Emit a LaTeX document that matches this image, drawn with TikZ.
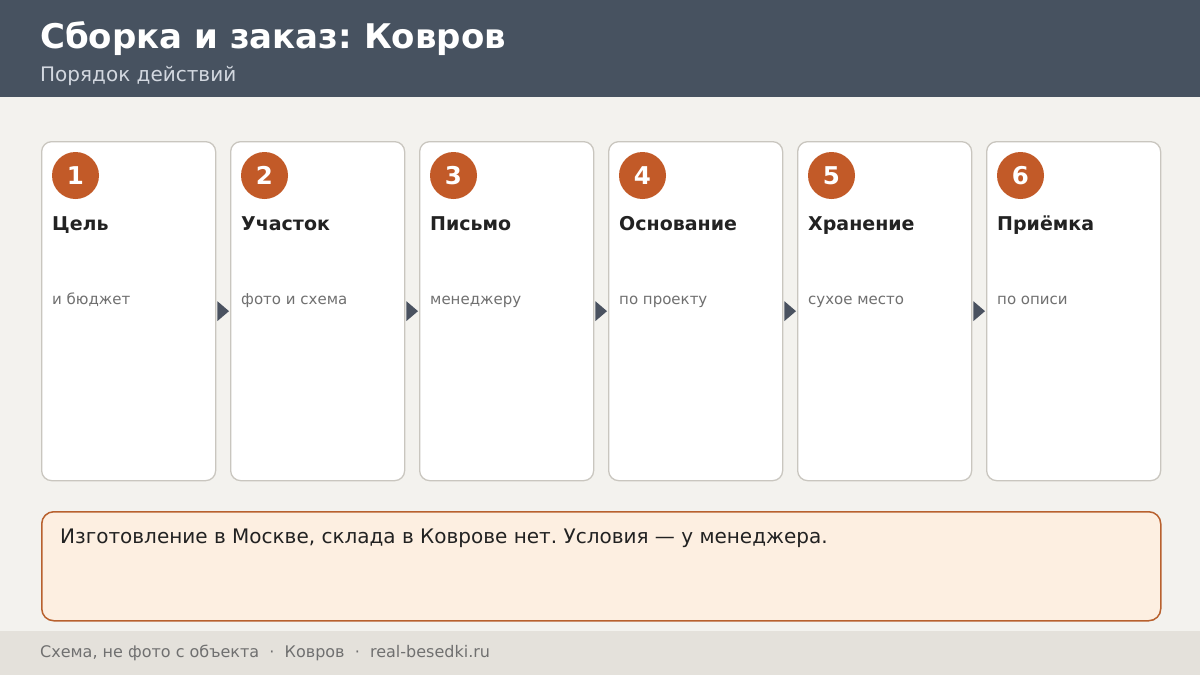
\documentclass[tikz,border=0pt]{standalone}
\usepackage{fontspec}
\setmainfont{DejaVu Sans}
\usetikzlibrary{positioning}
\frenchspacing
\definecolor{pagebg}{HTML}{F3F2EE}
\definecolor{headbg}{HTML}{475260}
\definecolor{subtxt}{HTML}{D3D8E0}
\definecolor{cardline}{HTML}{C9C6BF}
\definecolor{rust}{HTML}{C25A28}
\definecolor{inktxt}{HTML}{222222}
\definecolor{greytxt}{HTML}{707070}
\definecolor{arrowc}{HTML}{4A5260}
\definecolor{notebg}{HTML}{FDEFE1}
\definecolor{noteline}{HTML}{B8612E}
\definecolor{footbg}{HTML}{E4E1DB}

\tikzset{
  card/.style={draw=cardline, line width=1.3pt, fill=white, rounded corners=10pt,
    minimum width=174pt, minimum height=339pt, anchor=north west, inner sep=0pt},
  badge/.style={circle, fill=rust, minimum size=47pt, inner sep=0pt,
    text=white, font=\bfseries\fontsize{24.5}{28}\selectfont},
  cardtitle/.style={anchor=base west, inner sep=0pt, text=inktxt,
    font=\bfseries\fontsize{19}{23}\selectfont},
  carddesc/.style={anchor=base west, inner sep=0pt, text=greytxt,
    font=\fontsize{15}{18}\selectfont},
}

\begin{document}
\begin{tikzpicture}[x=1pt,y=-1pt]

% Canvas
\useasboundingbox (0,0) rectangle (1200,675);
\fill[pagebg] (0,0) rectangle (1200,675);

% Header
\fill[headbg] (0,0) rectangle (1200,97);
\node[anchor=base west, inner sep=0pt, text=white, font=\bfseries\fontsize{34}{40}\selectfont]
  (title) at (40,48) {Сборка и заказ: Ковров};
\node[anchor=base west, inner sep=0pt, text=subtxt, font=\fontsize{20}{24}\selectfont]
  (subtitle) at (40,81) {Порядок действий};

% Step cards
\def\pitch{189}
\foreach \i/\ttl/\dsc in {1/Цель/и бюджет, 2/Участок/фото и схема, 3/Письмо/менеджеру,
    4/Основание/по проекту, 5/Хранение/сухое место, 6/Приёмка/по описи}{
  \node[card] (c\i) at ({41+\pitch*(\i-1)},141) {};
  \node[badge] (b\i) at ([xshift=34.5pt,yshift=-34.5pt]c\i.north west) {\i};
  \node[cardtitle] (t\i) at ([xshift=11pt,yshift=-89.5pt]c\i.north west) {\ttl};
  \node[carddesc] (d\i) at ([xshift=11pt,yshift=-163.5pt]c\i.north west) {\dsc};
}

% Arrows between cards
\foreach \i [count=\j from 2] in {1,...,5}{
  \fill[arrowc] ([xshift=1pt,yshift=10pt]c\i.east) -- ([xshift=-1pt]c\j.west)
    -- ([xshift=1pt,yshift=-10pt]c\i.east) -- cycle;
}

% Note
\node[draw=noteline, line width=1.5pt, fill=notebg, rounded corners=12pt,
  minimum width=1119pt, minimum height=109pt, anchor=north west, inner sep=0pt]
  (note) at (41,511) {};
\node[anchor=base west, inner sep=0pt, text=inktxt, font=\fontsize{20}{24}\selectfont]
  (notetext) at ([xshift=19pt,yshift=-32.5pt]note.north west)
  {Изготовление в Москве, склада в Коврове нет. Условия — у менеджера.};

% Footer
\fill[footbg] (0,631) rectangle (1200,675);
\node[anchor=base west, inner sep=0pt, text=greytxt, font=\fontsize{16}{19}\selectfont]
  (foot) at (40,657) {Схема, не фото с объекта \ \textperiodcentered\ \ Ковров \ \textperiodcentered\ \ real-besedki.ru};

\end{tikzpicture}
\end{document}
